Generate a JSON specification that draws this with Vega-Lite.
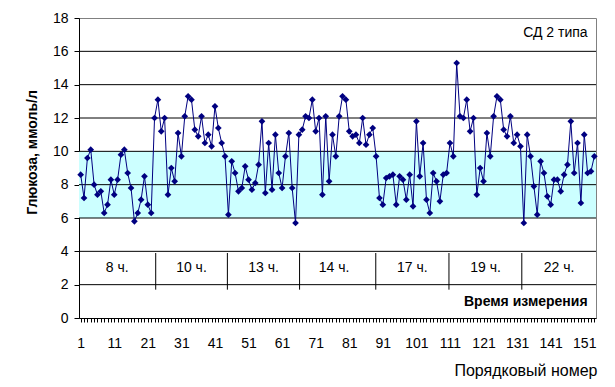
{
  "$schema": "https://vega.github.io/schema/vega-lite/v6.json",
  "width": 517,
  "height": 300,
  "autosize": {"type": "none"},
  "padding": {"left": 79, "top": 18, "right": 19, "bottom": 69},
  "background": "white",
  "config": {
    "view": {"stroke": "#808080", "strokeWidth": 1},
    "axis": {
      "domainColor": "black",
      "tickColor": "black",
      "labelColor": "black",
      "titleColor": "black",
      "labelFont": "Liberation Sans",
      "titleFont": "Liberation Sans",
      "labelFontSize": 14,
      "labelOverlap": false,
      "grid": false
    },
    "text": {"font": "Liberation Sans", "color": "black"}
  },
  "datasets": {
    "glucose": [
      {"n":1,"g":8.6},{"n":2,"g":7.2},{"n":3,"g":9.6},{"n":4,"g":10.1},{"n":5,"g":8.0},{"n":6,"g":7.4},{"n":7,"g":7.6},{"n":8,"g":6.3},{"n":9,"g":6.8},{"n":10,"g":8.3},
      {"n":11,"g":7.4},{"n":12,"g":8.3},{"n":13,"g":9.8},{"n":14,"g":10.1},{"n":15,"g":8.7},{"n":16,"g":7.8},{"n":17,"g":5.8},{"n":18,"g":6.3},{"n":19,"g":7.1},{"n":20,"g":8.5},
      {"n":21,"g":6.8},{"n":22,"g":6.3},{"n":23,"g":12.0},{"n":24,"g":13.1},{"n":25,"g":11.2},{"n":26,"g":12.0},{"n":27,"g":7.4},{"n":28,"g":9.0},{"n":29,"g":8.2},{"n":30,"g":11.1},
      {"n":31,"g":9.7},{"n":32,"g":12.1},{"n":33,"g":13.3},{"n":34,"g":13.1},{"n":35,"g":11.3},{"n":36,"g":10.9},{"n":37,"g":12.1},{"n":38,"g":10.5},{"n":39,"g":11.0},{"n":40,"g":10.3},
      {"n":41,"g":12.7},{"n":42,"g":11.4},{"n":43,"g":10.5},{"n":44,"g":9.7},{"n":45,"g":6.2},{"n":46,"g":9.4},{"n":47,"g":8.7},{"n":48,"g":7.6},{"n":49,"g":7.8},{"n":50,"g":9.1},
      {"n":51,"g":8.3},{"n":52,"g":7.7},{"n":53,"g":8.1},{"n":54,"g":9.2},{"n":55,"g":11.8},{"n":56,"g":7.5},{"n":57,"g":10.5},{"n":58,"g":7.7},{"n":59,"g":11.0},{"n":60,"g":8.7},
      {"n":61,"g":7.8},{"n":62,"g":9.7},{"n":63,"g":11.1},{"n":64,"g":7.8},{"n":65,"g":5.7},{"n":66,"g":11.0},{"n":67,"g":11.3},{"n":68,"g":12.1},{"n":69,"g":12.0},{"n":70,"g":13.1},
      {"n":71,"g":11.2},{"n":72,"g":12.0},{"n":73,"g":7.4},{"n":74,"g":12.1},{"n":75,"g":8.2},{"n":76,"g":11.0},{"n":77,"g":9.7},{"n":78,"g":12.1},{"n":79,"g":13.3},{"n":80,"g":13.1},
      {"n":81,"g":11.2},{"n":82,"g":10.9},{"n":83,"g":11.0},{"n":84,"g":10.5},{"n":85,"g":12.0},{"n":86,"g":10.4},{"n":87,"g":11.0},{"n":88,"g":11.4},{"n":89,"g":9.7},{"n":90,"g":7.2},
      {"n":91,"g":6.8},{"n":92,"g":8.4},{"n":93,"g":8.5},{"n":94,"g":8.6},{"n":95,"g":6.8},{"n":96,"g":8.5},{"n":97,"g":8.3},{"n":98,"g":7.1},{"n":99,"g":8.6},{"n":100,"g":6.7},
      {"n":101,"g":11.8},{"n":102,"g":8.5},{"n":103,"g":10.5},{"n":104,"g":7.1},{"n":105,"g":6.3},{"n":106,"g":8.7},{"n":107,"g":8.2},{"n":108,"g":7.0},{"n":109,"g":8.6},{"n":110,"g":8.7},
      {"n":111,"g":10.5},{"n":112,"g":9.7},{"n":113,"g":15.3},{"n":114,"g":12.1},{"n":115,"g":12.0},{"n":116,"g":13.1},{"n":117,"g":11.2},{"n":118,"g":12.0},{"n":119,"g":7.4},{"n":120,"g":9.0},
      {"n":121,"g":8.2},{"n":122,"g":11.1},{"n":123,"g":9.7},{"n":124,"g":12.1},{"n":125,"g":13.3},{"n":126,"g":13.1},{"n":127,"g":11.3},{"n":128,"g":10.9},{"n":129,"g":12.1},{"n":130,"g":10.5},
      {"n":131,"g":11.0},{"n":132,"g":10.3},{"n":133,"g":5.7},{"n":134,"g":11.0},{"n":135,"g":9.7},{"n":136,"g":7.9},{"n":137,"g":6.2},{"n":138,"g":9.4},{"n":139,"g":8.7},{"n":140,"g":7.3},
      {"n":141,"g":6.8},{"n":142,"g":8.3},{"n":143,"g":8.3},{"n":144,"g":7.6},{"n":145,"g":8.6},{"n":146,"g":9.2},{"n":147,"g":11.8},{"n":148,"g":8.7},{"n":149,"g":10.5},{"n":150,"g":6.9},
      {"n":151,"g":11.0},{"n":152,"g":8.7},{"n":153,"g":8.8},{"n":154,"g":9.7}
    ],
    "band": [{"lo": 6, "hi": 10}],
    "grid": [{"v": 2},{"v": 4},{"v": 6},{"v": 8},{"v": 10},{"v": 12},{"v": 14},{"v": 16}],
    "separators": [{"s": 23.35},{"s": 44.7},{"s": 66.2},{"s": 88.9},{"s": 110.7},{"s": 132.4}],
    "hours": [
      {"h": 11.9, "t": "8 ч."},
      {"h": 34.0, "t": "10 ч."},
      {"h": 55.5, "t": "13 ч."},
      {"h": 76.5, "t": "14 ч."},
      {"h": 99.8, "t": "17 ч."},
      {"h": 121.6, "t": "19 ч."},
      {"h": 143.5, "t": "22 ч."}
    ],
    "note1": [{"px": 152.0, "py": 17.1, "t": "СД 2 типа"}],
    "note2": [{"px": 152.0, "py": 0.95, "t": "Время измерения"}]
  },
  "encoding": {
    "x": {
      "type": "quantitative",
      "scale": {"domain": [0.5, 154.5], "nice": false, "zero": false},
      "axis": {
        "values": [1,2,3,4,5,6,7,8,9,10,11,12,13,14,15,16,17,18,19,20,21,22,23,24,25,26,27,28,29,30,31,32,33,34,35,36,37,38,39,40,41,42,43,44,45,46,47,48,49,50,51,52,53,54,55,56,57,58,59,60,61,62,63,64,65,66,67,68,69,70,71,72,73,74,75,76,77,78,79,80,81,82,83,84,85,86,87,88,89,90,91,92,93,94,95,96,97,98,99,100,101,102,103,104,105,106,107,108,109,110,111,112,113,114,115,116,117,118,119,120,121,122,123,124,125,126,127,128,129,130,131,132,133,134,135,136,137,138,139,140,141,142,143,144,145,146,147,148,149,150,151,152,153,154],
        "labelExpr": "(datum.value - 1) % 10 == 0 ? datum.label : ''",
        "labelOverlap": false,
        "labelFlush": false,
        "tickSize": 4,
        "labelPadding": 14,
        "title": "Порядковый номер",
        "titleFontSize": 16,
        "titleFontWeight": "normal",
        "titleAlign": "right",
        "titleAnchor": "end",
        "titleX": 518,
        "titleY": 52,
        "titleBaseline": "middle"
      }
    },
    "y": {
      "type": "quantitative",
      "scale": {"domain": [0, 18], "nice": false},
      "axis": {
        "values": [0,2,4,6,8,10,12,14,16,18],
        "labelOverlap": false,
        "tickSize": 5,
        "labelPadding": 6,
        "title": "Глюкоза, ммоль/л",
        "titleFontSize": 14,
        "titleFontWeight": "bold",
        "titleAngle": -90,
        "titleX": -47,
        "titleY": 134,
        "titleAlign": "center",
        "titleBaseline": "middle"
      }
    }
  },
  "layer": [
    {
      "data": {"name": "band"},
      "mark": {"type": "rect", "color": "#CCFFFF"},
      "encoding": {
        "x": null,
        "y": {"field": "lo", "type": "quantitative"},
        "y2": {"field": "hi"}
      }
    },
    {
      "data": {"name": "grid"},
      "mark": {"type": "rule", "color": "black", "strokeWidth": 1},
      "encoding": {
        "x": null,
        "y": {"field": "v", "type": "quantitative"}
      }
    },
    {
      "data": {"name": "separators"},
      "mark": {"type": "rule", "color": "black", "strokeWidth": 1},
      "encoding": {
        "x": {"field": "s", "type": "quantitative"},
        "y": {"datum": 1.7, "type": "quantitative"},
        "y2": {"datum": 3.9}
      }
    },
    {
      "data": {"name": "glucose"},
      "mark": {"type": "line", "color": "#000080", "strokeWidth": 1},
      "encoding": {
        "x": {"field": "n", "type": "quantitative"},
        "y": {"field": "g", "type": "quantitative"}
      }
    },
    {
      "data": {"name": "glucose"},
      "mark": {"type": "point", "shape": "diamond", "filled": true, "color": "#000080", "size": 45, "opacity": 1},
      "encoding": {
        "x": {"field": "n", "type": "quantitative"},
        "y": {"field": "g", "type": "quantitative"}
      }
    },
    {
      "data": {"name": "hours"},
      "mark": {"type": "text", "fontSize": 14, "align": "center", "baseline": "middle"},
      "encoding": {
        "x": {"field": "h", "type": "quantitative"},
        "y": {"datum": 3.0, "type": "quantitative"},
        "text": {"field": "t"}
      }
    },
    {
      "data": {"name": "note1"},
      "mark": {"type": "text", "fontSize": 14, "align": "right", "baseline": "middle"},
      "encoding": {
        "x": {"field": "px", "type": "quantitative"},
        "y": {"field": "py", "type": "quantitative"},
        "text": {"field": "t"}
      }
    },
    {
      "data": {"name": "note2"},
      "mark": {"type": "text", "fontSize": 14, "fontWeight": "bold", "align": "right", "baseline": "middle"},
      "encoding": {
        "x": {"field": "px", "type": "quantitative"},
        "y": {"field": "py", "type": "quantitative"},
        "text": {"field": "t"}
      }
    }
  ]
}
